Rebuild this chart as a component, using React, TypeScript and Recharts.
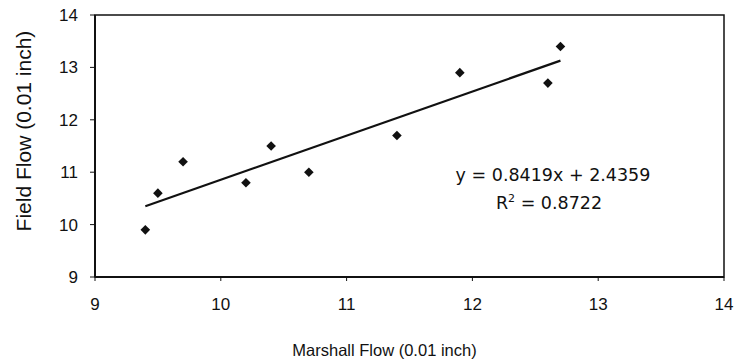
import React from 'react';
import { ScatterChart, Scatter, XAxis, YAxis, ReferenceArea, ReferenceLine, Label } from 'recharts';

const marshallFlow = [9.4, 9.5, 9.7, 10.2, 10.4, 10.7, 11.4, 11.9, 12.6, 12.7];
const fieldFlow = [9.9, 10.6, 11.2, 10.8, 11.5, 11.0, 11.7, 12.9, 12.7, 13.4];
const xTicks = [9, 10, 11, 12, 13, 14];
const yTicks = [9, 10, 11, 12, 13, 14];
const trendX = [9.4, 12.7];
const trendY = [10.35, 13.13];
const equationText = 'y = 0.8419x + 2.4359';
const r2Value = '0.8722';
const xTitle = 'Marshall Flow (0.01 inch)';
const yTitle = 'Field Flow (0.01 inch)';

const data = marshallFlow.map((x, i) => ({ x, y: fieldFlow[i] }));
const FONT = '"Liberation Sans", Arial, sans-serif';

const Diamond = (props: any) => {
  const { cx, cy } = props;
  if (cx == null || cy == null) return null;
  const r = 4.8;
  return (
    <polygon
      points={`${cx},${cy - r} ${cx + r},${cy} ${cx},${cy + r} ${cx - r},${cy}`}
      fill="#111"
    />
  );
};

export default function App() {
  return (
    <div style={{ position: 'absolute', left: 0, top: 0, width: 739, height: 363, background: '#fff' }}>
      <ScatterChart width={739} height={363} margin={{ top: 15, right: 15, bottom: 0, left: 0 }}>
        <XAxis
          type="number"
          dataKey="x"
          domain={[9, 14]}
          ticks={xTicks}
          height={86}
          tickSize={4}
          tickMargin={17}
          axisLine={{ stroke: '#111', strokeWidth: 2 }}
          tickLine={{ stroke: '#111' }}
          tick={{ fill: '#111', fontSize: 17, fontFamily: FONT }}
        >
          <Label
            content={(p: any) => {
              const vb = p.viewBox || { x: 95, y: 277, width: 629, height: 86 };
              return (
                <text
                  x={vb.x + vb.width / 2 - 25}
                  y={vb.y + vb.height - 7}
                  textAnchor="middle"
                  fill="#111"
                  fontSize={16.5}
                  fontFamily={FONT}
                >
                  {xTitle}
                </text>
              );
            }}
          />
        </XAxis>
        <YAxis
          type="number"
          dataKey="y"
          domain={[9, 14]}
          ticks={yTicks}
          width={95}
          tickSize={5}
          tickMargin={12}
          axisLine={{ stroke: '#111', strokeWidth: 2 }}
          tickLine={{ stroke: '#111' }}
          tick={{ fill: '#111', fontSize: 17, fontFamily: FONT }}
        >
          <Label
            content={(p: any) => {
              const vb = p.viewBox || { x: 0, y: 15, width: 95, height: 262 };
              const cx = vb.x + 31;
              const cy = vb.y + vb.height / 2 - 15;
              return (
                <text
                  x={cx}
                  y={cy}
                  transform={`rotate(-90 ${cx} ${cy})`}
                  textAnchor="middle"
                  fill="#111"
                  fontSize={21}
                  fontFamily={FONT}
                >
                  {yTitle}
                </text>
              );
            }}
          />
        </YAxis>
        <ReferenceArea x1={9} x2={14} y1={9} y2={14} fill="none" stroke="#111" strokeWidth={1.5} ifOverflow="visible" />
        <ReferenceLine
          segment={[{ x: trendX[0], y: trendY[0] }, { x: trendX[1], y: trendY[1] }]}
          stroke="#111"
          strokeWidth={2.2}
          ifOverflow="visible"
        />
        <Scatter data={data} shape={<Diamond />} isAnimationActive={false} />
      </ScatterChart>
      <svg width={739} height={363} style={{ position: 'absolute', left: 0, top: 0, pointerEvents: 'none' }}>
        <text x={553} y={181} textAnchor="middle" fill="#111" fontSize={17.5} fontFamily='"DejaVu Sans", sans-serif'>
          {equationText}
        </text>
        <text x={549} y={209} textAnchor="middle" fill="#111" fontSize={17.5} fontFamily='"DejaVu Sans", sans-serif'>
          R<tspan dy={-7} fontSize={11}>2</tspan>
          <tspan dy={7}>{' = ' + r2Value}</tspan>
        </text>
      </svg>
    </div>
  );
}
